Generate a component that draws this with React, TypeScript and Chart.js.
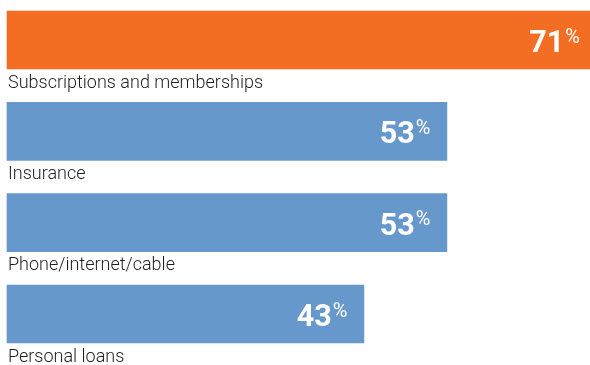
import React, { useEffect, useRef } from "react";
import { Chart, registerables } from "chart.js";

Chart.register(...registerables);

const categories = [
  "Subscriptions and memberships",
  "Insurance",
  "Phone/internet/cable",
  "Personal loans",
];
const values = [71, 53, 53, 43];
const barColors = ["#F36D22", "#6698CB", "#6698CB", "#6698CB"];
const valueLabels = ["71", "53", "53", "43"];

const labelPlugin = {
  id: "barLabels",
  afterDatasetsDraw(chart: any) {
    const ctx = chart.ctx as CanvasRenderingContext2D;
    const meta = chart.getDatasetMeta(0);
    meta.data.forEach((bar: any, i: number) => {
      const barBottom = bar.y + bar.height / 2;
      ctx.save();
      // category label under bar
      ctx.fillStyle = "#1e1e1e";
      ctx.font = "300 18px Roboto";
      ctx.textAlign = "left";
      ctx.textBaseline = "alphabetic";
      ctx.fillText(categories[i], 8, barBottom + 18.5);
      // value label
      const pctFont = "400 20px Roboto";
      const numFont = "700 30.5px Roboto";
      ctx.font = pctFont;
      const pctW = ctx.measureText("%").width;
      const pctRight = bar.x - 16.5;
      ctx.fillStyle = "#FFFFFF";
      ctx.textAlign = "left";
      ctx.fillText("%", pctRight - pctW, bar.y + 2.5);
      ctx.font = numFont;
      ctx.textAlign = "right";
      ctx.fillText(valueLabels[i], pctRight - pctW - 1, bar.y + 12);
      ctx.restore();
    });
  },
};

export default function App() {
  const ref = useRef<HTMLCanvasElement | null>(null);
  useEffect(() => {
    if (!ref.current) return;
    const chart = new Chart(ref.current, {
      type: "bar",
      data: {
        labels: categories,
        datasets: [
          {
            data: values,
            backgroundColor: barColors,
            barThickness: 58,
            borderWidth: 0,
            clip: false as any,
          },
        ],
      },
      options: {
        indexAxis: "y",
        animation: false,
        responsive: false,
        maintainAspectRatio: false,
        layout: { padding: { left: 7, right: 0, top: 40, bottom: 51 } },
        scales: {
          x: { display: false, min: 0, max: 70.24 },
          y: { display: false, offset: false },
        },
        plugins: {
          legend: { display: false },
          tooltip: { enabled: false },
        },
      },
      plugins: [labelPlugin],
    });
    return () => chart.destroy();
  }, []);
  return (
    <div style={{ position: "absolute", left: 0, top: 0, width: 590, height: 365 }}>
      <canvas ref={ref} width={590} height={365} style={{ width: 590, height: 365, display: "block" }} />
    </div>
  );
}
